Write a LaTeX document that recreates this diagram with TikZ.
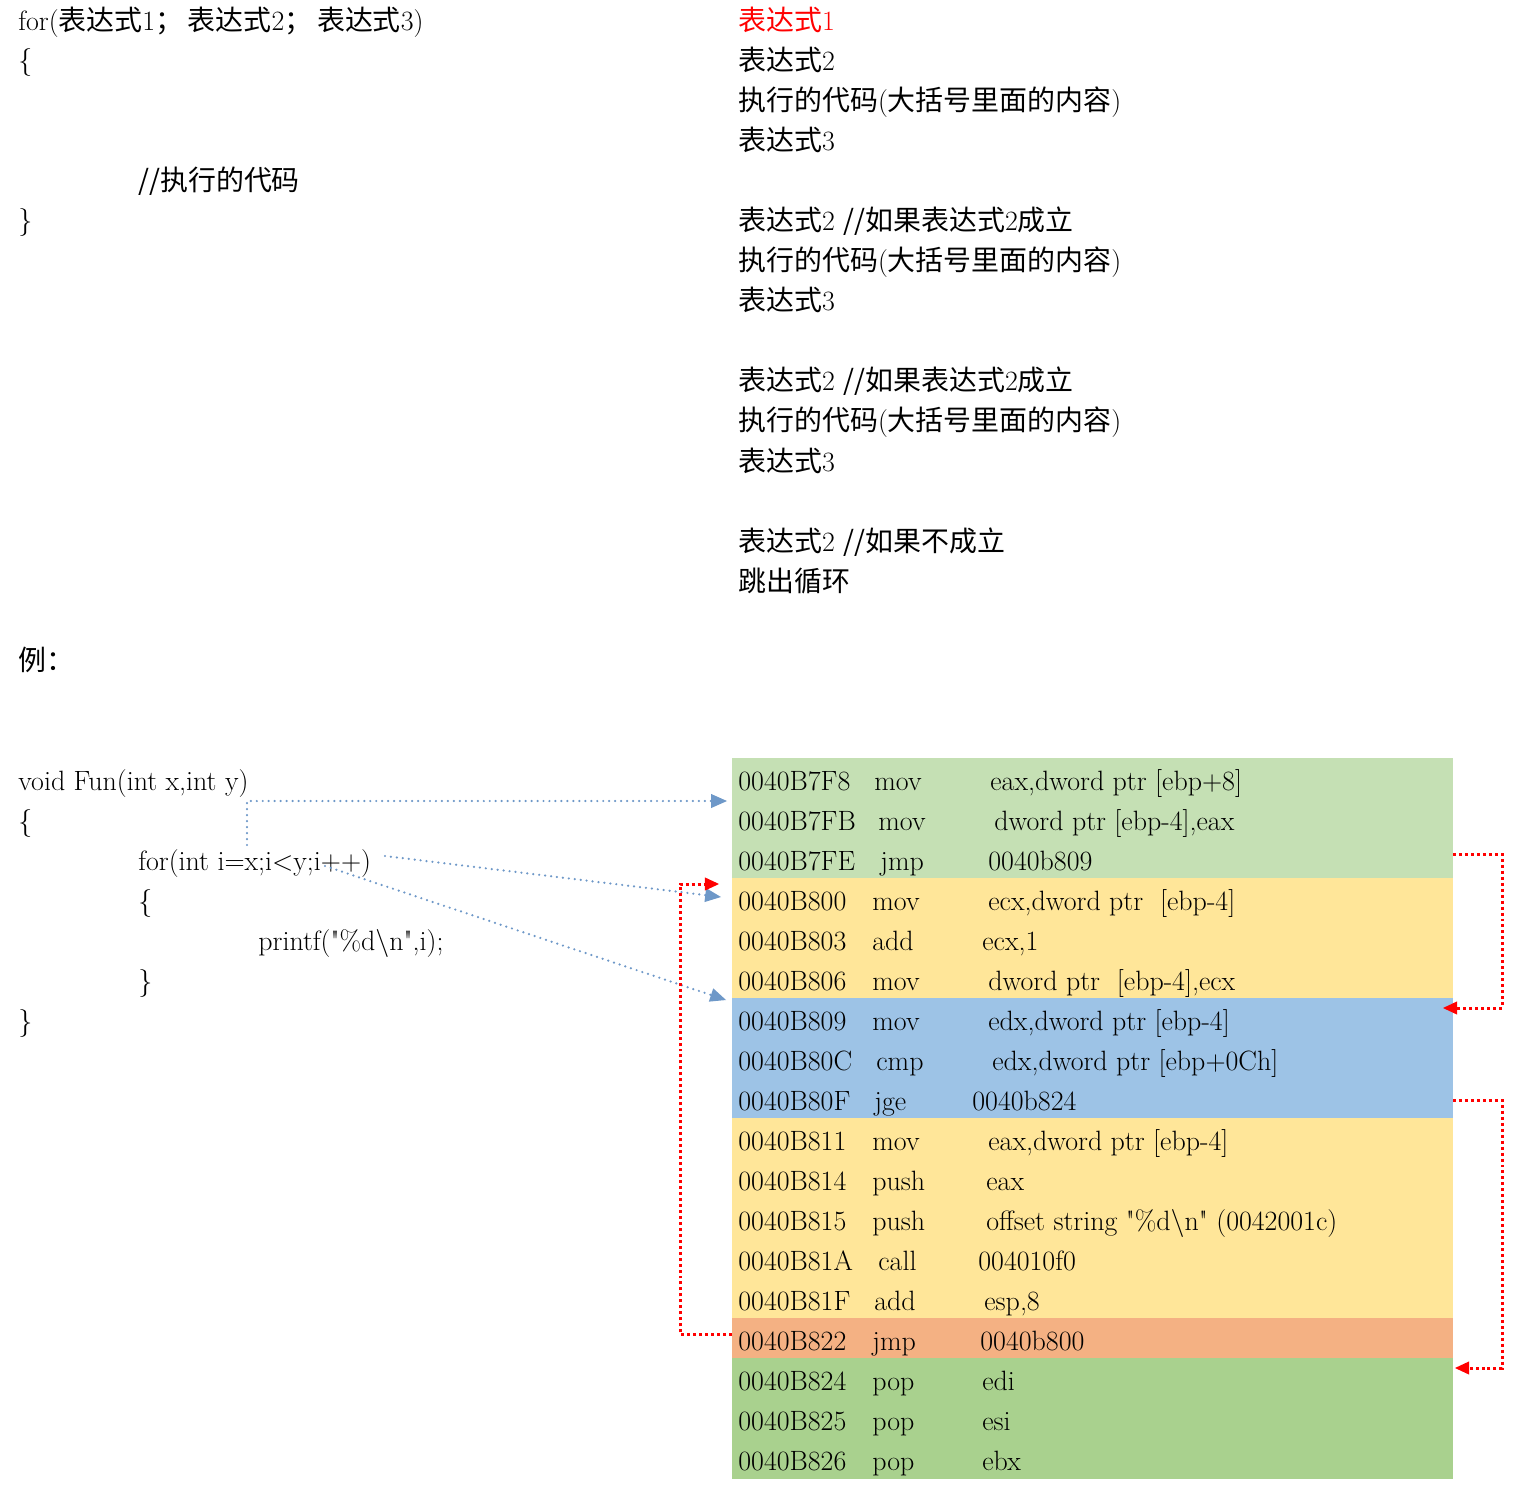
\documentclass[tikz,border=0pt]{standalone}
\usepackage{fontspec}
\newfontfamily\cjk{Noto Sans CJK SC}
\newfontfamily\plainq{Latin Modern Roman}
\usetikzlibrary{arrows.meta}
\definecolor{bandA}{RGB}{197,224,180}
\definecolor{bandY}{RGB}{255,230,153}
\definecolor{bandB}{RGB}{157,195,230}
\definecolor{bandO}{RGB}{244,177,131}
\definecolor{bandG}{RGB}{169,209,142}
\definecolor{linkblue}{RGB}{110,152,200}
\definecolor{linkred}{RGB}{255,0,0}
\newcommand\zh[1]{{\cjk #1}}
\newcommand\dq{{\plainq "}}
\newcommand\asmrow[7]{%
  \node[txt] (#1a) at (738,#2) {#3};
  \node[txt] (#1m) at (#4,#2) {#5};
  \node[txt] (#1o) at (#6,#2) {#7};}
\begin{document}
\begin{tikzpicture}[x=0.02cm,y=-0.02cm,
  txt/.style={anchor=base west,inner sep=0pt,font=\fontsize{15.9pt}{19pt}\selectfont},
  bluedot/.style={draw=linkblue,line width=1.4pt,line cap=round,dash pattern=on 0pt off 3.4pt,
    -{Triangle[length=9pt,width=8pt,fill=linkblue,line width=0pt]}},
  reddot/.style={draw=linkred,line width=1.7pt,dash pattern=on 1.7pt off 1.7pt,
    -{Triangle[length=8pt,width=7.5pt,fill=linkred,line width=0pt]}}]
\useasboundingbox (0,0) rectangle (1520,1496);

% ---- top left ----
\node[txt] (fh) at (18,31) {for(\zh{表达式}1\zh{；}\,\zh{表达式}2\zh{；}\,\zh{表达式}3)};
\node[txt] (fo) at (18,70) {\{};
\node[txt] (fc) at (138,191) {\zh{//执行的代码}};
\node[txt] (fe) at (18,230) {\}};

% ---- top right ----
\node[txt,text=red] (r1) at (738,31) {\zh{表达式}1};
\node[txt] (r2) at (738,71) {\zh{表达式}2};
\node[txt] (r3) at (738,111) {\zh{执行的代码}(\zh{大括号里面的内容})};
\node[txt] (r4) at (738,151) {\zh{表达式}3};
\node[txt] (r5) at (738,231) {\zh{表达式}2 \zh{//如果表达式}2\zh{成立}};
\node[txt] (r6) at (738,271) {\zh{执行的代码}(\zh{大括号里面的内容})};
\node[txt] (r7) at (738,311) {\zh{表达式}3};
\node[txt] (r8) at (738,391) {\zh{表达式}2 \zh{//如果表达式}2\zh{成立}};
\node[txt] (r9) at (738,431) {\zh{执行的代码}(\zh{大括号里面的内容})};
\node[txt] (r10) at (738,471) {\zh{表达式}3};
\node[txt] (r11) at (738,551) {\zh{表达式}2 \zh{//如果不成立}};
\node[txt] (r12) at (738,591) {\zh{跳出循环}};

\node[txt] (ex) at (18,670) {\zh{例：}};

% ---- example code ----
\node[txt] (c1) at (18,790) {void Fun(int x,int y)};
\node[txt] (c2) at (18,830) {\{};
\node[txt] (c3) at (138,870) {for(int i=x;i<y;i++)};
\node[txt] (c4) at (138,910) {\{};
\node[txt] (c5) at (258,950) {printf(\dq\%d\textbackslash n\dq,i);};
\node[txt] (c6) at (138,990) {\}};
\node[txt] (c7) at (18,1030) {\}};

% ---- coloured bands ----
\fill[bandA] (732,758) rectangle (1453,878);
\fill[bandY] (732,878) rectangle (1453,998);
\fill[bandB] (732,998) rectangle (1453,1118);
\fill[bandY] (732,1118) rectangle (1453,1318);
\fill[bandO] (732,1318) rectangle (1453,1358);
\fill[bandG] (732,1358) rectangle (1453,1479);

% ---- assembly rows ----
\asmrow{s1}{790}{0040B7F8}{874}{mov}{990}{eax,dword ptr [ebp+8]}
\asmrow{s2}{830}{0040B7FB}{878}{mov}{994}{dword ptr [ebp-4],eax}
\asmrow{s3}{870}{0040B7FE}{880}{jmp}{988}{0040b809}
\asmrow{s4}{910}{0040B800}{872}{mov}{988}{ecx,dword ptr\ \ [ebp-4]}
\asmrow{s5}{950}{0040B803}{872}{add}{982}{ecx,1}
\asmrow{s6}{990}{0040B806}{872}{mov}{988}{dword ptr\ \ [ebp-4],ecx}
\asmrow{s7}{1030}{0040B809}{872}{mov}{988}{edx,dword ptr [ebp-4]}
\asmrow{s8}{1070}{0040B80C}{876}{cmp}{992}{edx,dword ptr [ebp+0Ch]}
\asmrow{s9}{1110}{0040B80F}{874}{jge}{972}{0040b824}
\asmrow{s10}{1150}{0040B811}{872}{mov}{988}{eax,dword ptr [ebp-4]}
\asmrow{s11}{1190}{0040B814}{872}{push}{986}{eax}
\asmrow{s12}{1230}{0040B815}{872}{push}{986}{offset string \dq\%d\textbackslash n\dq\ (0042001c)}
\asmrow{s13}{1270}{0040B81A}{878}{call}{978}{004010f0}
\asmrow{s14}{1310}{0040B81F}{874}{add}{984}{esp,8}
\asmrow{s15}{1350}{0040B822}{872}{jmp}{980}{0040b800}
\asmrow{s16}{1390}{0040B824}{872}{pop}{982}{edi}
\asmrow{s17}{1430}{0040B825}{872}{pop}{982}{esi}
\asmrow{s18}{1470}{0040B826}{872}{pop}{982}{ebx}

% ---- connector end points ----
\coordinate (a0) at (247,845);
\coordinate (a1) at (247,801);
\coordinate (a2) at (727,801);
\coordinate (b0) at (385,856);
\coordinate (b1) at (721,897);
\coordinate (k0) at (325,866);
\coordinate (k1) at (726,1000);
\coordinate (d0) at (1453,854);
\coordinate (d1) at (1502,854);
\coordinate (d2) at (1502,1008);
\coordinate (d3) at (1443,1008);
\coordinate (e0) at (1453,1100);
\coordinate (e1) at (1502,1100);
\coordinate (e2) at (1502,1368);
\coordinate (e3) at (1455,1368);
\coordinate (f0) at (732,1334);
\coordinate (f1) at (680,1334);
\coordinate (f2) at (680,884);
\coordinate (f3) at (719,884);

% ---- connectors ----
\draw[bluedot] (a0) -- (a1) -- (a2);
\draw[bluedot] (b0) -- (b1);
\draw[bluedot] (k0) -- (k1);
\draw[reddot] (d0) -- (d1) -- (d2) -- (d3);
\draw[reddot] (e0) -- (e1) -- (e2) -- (e3);
\draw[reddot] (f0) -- (f1) -- (f2) -- (f3);
\end{tikzpicture}
\end{document}
